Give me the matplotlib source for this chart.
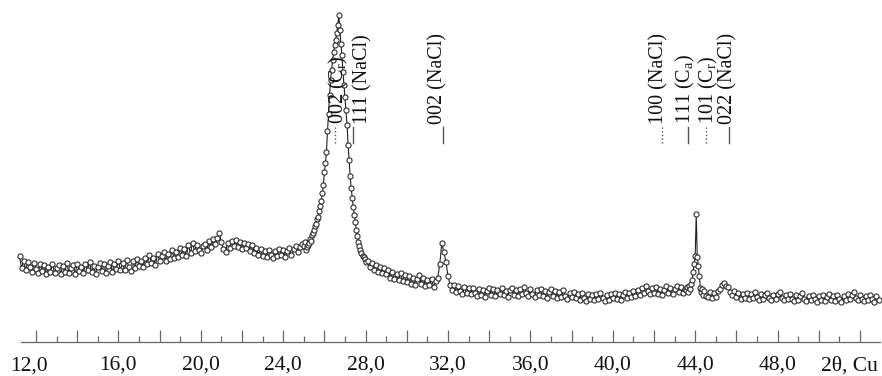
import numpy as np
import matplotlib
matplotlib.use("Agg")
import matplotlib.pyplot as plt
from matplotlib.ticker import FixedLocator, FixedFormatter

plt.rcParams['font.family'] = ['Liberation Serif', 'DejaVu Serif']
plt.rcParams['mathtext.fontset'] = 'custom'
plt.rcParams['mathtext.rm'] = 'Liberation Serif'
plt.rcParams['mathtext.it'] = 'Liberation Serif:italic'

# ---------------- data (2theta in degrees, intensity in arbitrary units) -------------
# segment A: 11.2 .. 25.0, step 0.1
seg_a_start, seg_a_step = 11.2, 0.1
seg_a_int = [
    86, 74, 81, 72, 80, 75, 70, 79, 73, 69,
    78, 71, 77, 68, 75, 70, 78, 69, 74, 77,
    68, 76, 70, 79, 69, 74, 77, 68, 78, 71,
    75, 69, 78, 72, 80, 70, 76, 68, 75, 79,
    71, 78, 69, 76, 80, 70, 78, 73, 81, 72,
    79, 72, 82, 75, 71, 81, 74, 83, 76, 81,
    75, 84, 78, 87, 79, 84, 77, 88, 81, 86,
    90, 81, 88, 83, 92, 84, 90, 85, 94, 87,
    93, 86, 97, 89, 99, 91, 97, 92, 89, 96,
    98, 92, 101, 95, 103, 98, 104, 109, 100, 93,
    90, 99, 94, 101, 96, 102, 95, 100, 93, 99,
    94, 98, 91, 97, 89, 94, 87, 93, 86, 91,
    85, 92, 87, 84, 91, 86, 93, 87, 92, 85,
    91, 94, 87, 93, 96, 90, 95, 98, 96,
]
# segment B: main peak 25.05 .. 28.0, step 0.05
seg_b_start, seg_b_step = 25.05, 0.05
seg_b_int = [
    100, 92, 95, 97, 99, 103, 101, 107, 109, 112,
    116, 118, 123, 125, 131, 136, 141, 149, 157, 170,
    179, 190, 211, 228, 247, 262, 272, 282, 290, 297,
    302, 309, 317, 327, 312, 298, 287, 270, 257, 245,
    232, 217, 197, 182, 166, 154, 144, 135, 127, 120,
    112, 106, 100, 96, 92, 89, 86, 85, 83, 80,
]
# segment C: 28.1 .. 43.5, step 0.1
seg_c_start, seg_c_step = 28.1, 0.1
seg_c_int = [
    81, 75, 79, 72, 77, 70, 75, 69, 74, 68,
    72, 64, 70, 63, 68, 62, 69, 61, 67, 60,
    66, 58, 64, 57, 63, 67, 58, 64, 56, 62,
    57, 63, 55, 61, 64, 78, 99, 90, 80, 66,
    57, 52, 57, 50, 56, 51, 48, 55, 49, 54,
    48, 54, 49, 46, 53, 47, 52, 45, 51, 54,
    47, 53, 46, 52, 48, 54, 47, 51, 45, 52,
    54, 47, 52, 46, 53, 48, 55, 49, 46, 53,
    48, 45, 52, 47, 53, 46, 51, 44, 50, 53,
    46, 51, 44, 50, 45, 52, 46, 43, 49, 45,
    50, 44, 48, 42, 49, 44, 41, 48, 43, 47,
    42, 48, 43, 49, 44, 41, 47, 42, 48, 44,
    49, 43, 48, 42, 47, 50, 44, 49, 45, 51,
    46, 52, 47, 54, 49, 56, 51, 48, 54, 49,
    55, 48, 53, 47, 52, 56, 49, 54, 48, 53,
    56, 50, 55, 49, 53,
]
# segment D: 44 deg peak 43.55 .. 44.5, step 0.05
seg_d_start, seg_d_step = 43.55, 0.05
seg_d_int = [
    52, 55, 50, 56, 53, 58, 62, 70, 78, 86,
    128, 85, 76, 66, 54, 50, 53, 47, 51, 46,
]
# segment E: 44.6 .. 52.9, step 0.1
seg_e_start, seg_e_step = 44.6, 0.1
seg_e_int = [
    45, 50, 44, 49, 45, 51, 53, 57, 59, 56,
    55, 50, 47, 51, 45, 49, 43, 48, 44, 49,
    43, 48, 44, 50, 45, 42, 48, 43, 47, 49,
    44, 42, 47, 43, 48, 50, 44, 42, 47, 43,
    48, 43, 41, 47, 42, 46, 49, 43, 41, 46,
    42, 47, 43, 40, 46, 42, 47, 41, 45, 48,
    42, 46, 41, 47, 43, 40, 46, 42, 48, 43,
    47, 50, 44, 42, 47, 43, 41, 46, 42, 47,
    43, 40, 46, 42,
]

major_ticks = [12, 14, 16, 18, 20, 22, 24, 26, 28, 30, 32, 34, 36, 38, 40, 42, 44, 46, 48, 50, 52]
minor_ticks = [13, 15, 17, 19, 21, 23, 25, 27, 29, 31, 33, 35, 37, 39, 41, 43, 45, 47, 49, 51]
tick_labels = ['', '', '16,0', '', '20,0', '', '24,0', '', '28,0', '', '32,0', '',
               '36,0', '', '40,0', '', '44,0', '', '48,0', '', '']
first_label = '12,0'
axis_title = '2θ, Cu'

peak_labels = ['002 (C$_{\\mathrm{r}}$)', '111 (NaCl)', '002 (NaCl)', '100 (NaCl)',
               '111 (C$_{\\mathrm{a}}$)', '101 (C$_{\\mathrm{r}}$)', '022 (NaCl)']
peak_text_pos = [26.66, 27.87, 31.51, 42.24, 43.52, 44.64, 45.58]
peak_line_pos = [26.51, 27.39, 31.76, 42.39, 43.65, 44.52, 45.64]
peak_line_style = [':', '-', '-', ':', '-', ':', '-']

# ---------------- build series ----------------
def seg(start, step, vals):
    return start + step * np.arange(len(vals)), np.asarray(vals, float)

parts = [seg(seg_a_start, seg_a_step, seg_a_int),
         seg(seg_b_start, seg_b_step, seg_b_int),
         seg(seg_c_start, seg_c_step, seg_c_int),
         seg(seg_d_start, seg_d_step, seg_d_int),
         seg(seg_e_start, seg_e_step, seg_e_int)]
two_theta = np.concatenate([p[0] for p in parts])
intensity = np.concatenate([p[1] for p in parts])

# ---------------- figure ----------------
W, H = 882, 376
fig = plt.figure(figsize=(W / 100, H / 100), dpi=100)
px_per_deg = 20.6
x0_px = 36.0  # pixel of 12.0
left_px, right_px = 21, 880
axis_px = 342
ax = fig.add_axes([left_px / W, (H - axis_px) / H, (right_px - left_px) / W, axis_px / H])
ax.set_xlim(12 + (left_px - x0_px) / px_per_deg, 12 + (right_px - x0_px) / px_per_deg)
ax.set_ylim(0, axis_px)

ax.plot(two_theta, intensity, color='#222222', lw=0.8, marker='o', ms=3.7,
        mfc='white', mec='#222222', mew=0.75, clip_on=False, zorder=3)

for s in ['top', 'left', 'right']:
    ax.spines[s].set_visible(False)
ax.spines['bottom'].set_color('#666666')
ax.spines['bottom'].set_linewidth(0.9)
ax.set_yticks([])
ax.xaxis.set_major_locator(FixedLocator(major_ticks))
ax.xaxis.set_major_formatter(FixedFormatter(tick_labels))
ax.xaxis.set_minor_locator(FixedLocator(minor_ticks))
ax.tick_params(axis='x', which='major', direction='in', length=8.5, width=0.9,
               color='#666666', labelsize=15.5, pad=10, labelcolor='#111111')
ax.tick_params(axis='x', which='minor', direction='in', length=4.3, width=0.9,
               color='#666666')
lab_y = -0.042
ax.text(11.66, lab_y, first_label, transform=ax.get_xaxis_transform(), ha='center',
        va='top', fontsize=15.5, color='#111111')
ax.text(51.5, lab_y, axis_title, transform=ax.get_xaxis_transform(), ha='center',
        va='top', fontsize=15.5, color='#111111')

h_line_lo, h_line_hi, h_text = axis_px - 143, axis_px - 127, axis_px - 124
for lab, xt, xl, ls in zip(peak_labels, peak_text_pos, peak_line_pos, peak_line_style):
    ax.plot([xl, xl], [h_line_lo, h_line_hi], color='#555555', lw=1.0, ls=ls, zorder=2)
    ax.text(xt, h_text, lab, rotation=90, ha='center', va='bottom', fontsize=14.5,
            color='#111111', zorder=4)

fig.savefig('out.png', dpi=100)
